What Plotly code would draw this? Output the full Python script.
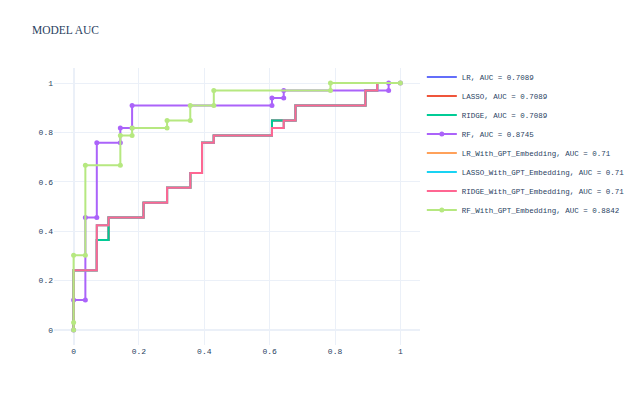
import plotly.graph_objects as go

# ROC curve points
lr_fpr = [0, 0, 0.071, 0.071, 0.107, 0.107, 0.214, 0.214, 0.286, 0.286, 0.357, 0.357, 0.393, 0.393,
          0.429, 0.429, 0.607, 0.607, 0.643, 0.643, 0.679, 0.679, 0.893, 0.893, 0.929, 0.929, 1]
lr_tpr = [0, 0.242, 0.242, 0.364, 0.364, 0.455, 0.455, 0.515, 0.515, 0.576, 0.576, 0.636, 0.636, 0.758,
          0.758, 0.788, 0.788, 0.848, 0.848, 0.848, 0.848, 0.909, 0.909, 0.970, 0.970, 1.0, 1.0]

gpt_fpr = [0, 0, 0.071, 0.071, 0.107, 0.107, 0.214, 0.214, 0.286, 0.286, 0.357, 0.357, 0.393, 0.393,
           0.429, 0.429, 0.607, 0.607, 0.643, 0.643, 0.679, 0.679, 0.893, 0.893, 0.929, 0.929, 1]
gpt_tpr = [0, 0.242, 0.242, 0.424, 0.424, 0.455, 0.455, 0.515, 0.515, 0.576, 0.576, 0.636, 0.636, 0.758,
           0.758, 0.788, 0.788, 0.818, 0.818, 0.848, 0.848, 0.909, 0.909, 0.970, 0.970, 1.0, 1.0]

rf_fpr = [0, 0, 0.036, 0.036, 0.071, 0.071, 0.143, 0.143, 0.179, 0.179, 0.607, 0.607, 0.643, 0.643,
          0.964, 0.964, 1]
rf_tpr = [0, 0.121, 0.121, 0.455, 0.455, 0.758, 0.758, 0.818, 0.818, 0.909, 0.909, 0.939, 0.939, 0.970,
          0.970, 1.0, 1.0]

rfg_fpr = [0, 0, 0, 0.036, 0.036, 0.143, 0.143, 0.179, 0.179, 0.286, 0.286, 0.357, 0.357, 0.429, 0.429,
           0.786, 0.786, 1]
rfg_tpr = [0, 0.030, 0.303, 0.303, 0.667, 0.667, 0.788, 0.788, 0.818, 0.818, 0.848, 0.848, 0.909, 0.909,
           0.970, 0.970, 1.0, 1.0]

names = ["LR, AUC = 0.7089", "LASSO, AUC = 0.7089", "RIDGE, AUC = 0.7089", "RF, AUC = 0.8745",
         "LR_With_GPT_Embedding, AUC = 0.71", "LASSO_With_GPT_Embedding, AUC = 0.71",
         "RIDGE_With_GPT_Embedding, AUC = 0.71", "RF_With_GPT_Embedding, AUC = 0.8842"]
series = [(lr_fpr, lr_tpr), (lr_fpr, lr_tpr), (lr_fpr, lr_tpr), (rf_fpr, rf_tpr),
          (gpt_fpr, gpt_tpr), (gpt_fpr, gpt_tpr), (gpt_fpr, gpt_tpr), (rfg_fpr, rfg_tpr)]
colors = ["#636efa", "#EF553B", "#00cc96", "#ab63fa", "#FFA15A", "#19d3f3", "#FF6692", "#B6E880"]
with_markers = [False, False, False, True, False, False, False, True]

fig = go.Figure()
for name, (fx, ty), col, mk in zip(names, series, colors, with_markers):
    fig.add_trace(go.Scatter(
        x=fx, y=ty, name=name,
        mode="lines+markers" if mk else "lines",
        line=dict(color=col, width=2),
        marker=dict(size=5, color=col),
    ))

fig.update_layout(
    template="plotly_white",
    width=640, height=400,
    margin=dict(l=54, r=220, t=68, b=55, autoexpand=False),
    title=dict(text="MODEL AUC", x=0.05, xref="container", y=0.925, yanchor="middle",
               font=dict(family="Liberation Serif", size=11.5, color="#2a3f5f")),
    font=dict(family="Liberation Mono", size=8, color="#2a3f5f"),
    legend=dict(font=dict(family="Liberation Mono", size=7.5), x=1.005, y=1.02, yanchor="top"),
    showlegend=True,
)
fig.update_xaxes(range=[-0.06, 1.06], dtick=0.2, tickfont=dict(size=8))
fig.update_yaxes(range=[-0.061, 1.061], dtick=0.2, tickfont=dict(size=8))

fig.write_html("out.html")
